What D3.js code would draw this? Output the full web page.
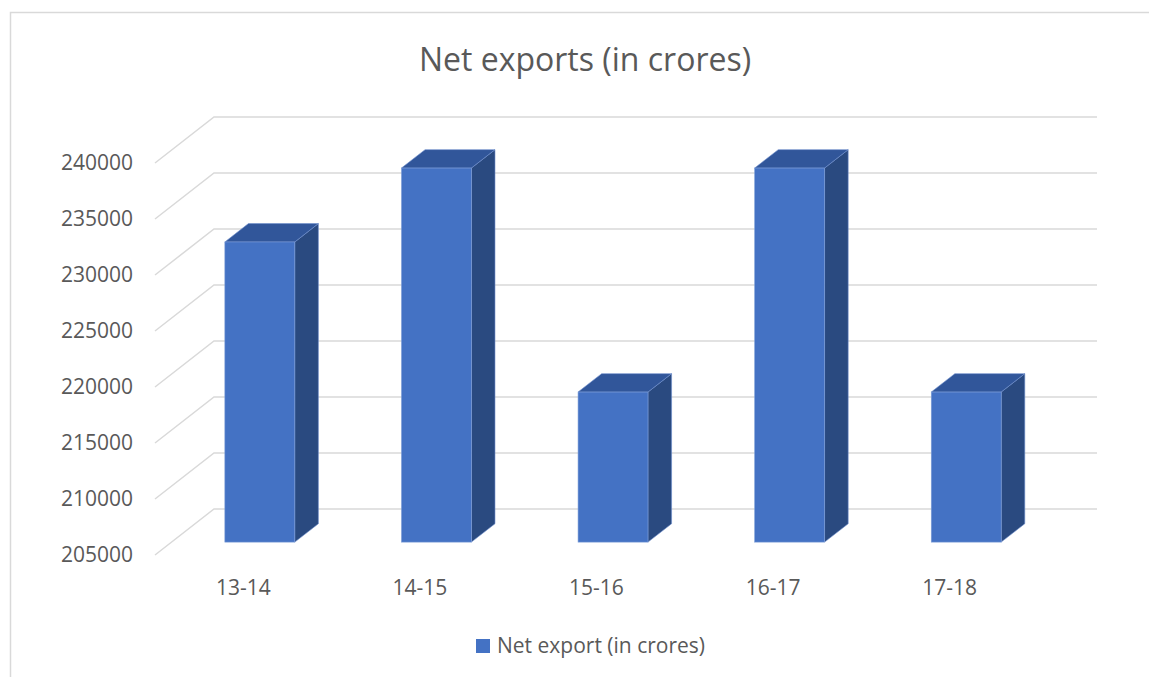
<!DOCTYPE html>
<html>
<head>
<meta charset="utf-8">
<script src="https://d3js.org/d3.v7.min.js"></script>
<style>
  body { margin: 0; background: #fff; }
  svg { display: block; font-family: "Open Sans", sans-serif; }
</style>
</head>
<body>
<svg id="chart"></svg>
<script>
let categories = ["13-14", "14-15", "15-16", "16-17", "17-18"];
let values = [231800, 238400, 218400, 238400, 218400];
let yTicks = [205000, 210000, 215000, 220000, 225000, 230000, 235000, 240000];
let seriesName = "Net export (in crores)";
let chartTitle = "Net exports (in crores)";

let width = 1149;
let height = 677;

let svg = d3.select("#chart")
  .attr("width", width)
  .attr("height", height)
  .attr("viewBox", `0 0 ${width} ${height}`);

// outer chart border (runs off the right/bottom of the picture)
svg.append("path")
  .attr("d", `M10.5,${height} L10.5,12.5 L${width},12.5`)
  .attr("fill", "none")
  .attr("stroke", "#d9d9d9")
  .attr("stroke-width", 1.5);

// front plane scales, depth is a fixed offset
let depthX = 59, depthY = -46;
let x = d3.scaleBand().domain(categories).range([155, 1038]).padding(0);
let y = d3.scaleLinear().domain([205000, 240000]).range([555, 163]);

// gridlines on side wall + back wall
svg.append("g")
  .selectAll("path")
  .data(yTicks)
  .enter()
  .append("path")
  .attr("d", function (d) {
    let yy = y(d);
    return `M155,${yy} L${155 + depthX},${yy + depthY} L${1038 + depthX},${yy + depthY}`;
  })
  .attr("fill", "none")
  .attr("stroke", "#d9d9d9")
  .attr("stroke-width", 1.5);

// y labels
svg.append("g")
  .selectAll("text")
  .data(yTicks)
  .enter()
  .append("text")
  .attr("x", 133)
  .attr("y", function (d) { return y(d); })
  .attr("dy", "0.35em")
  .attr("text-anchor", "end")
  .style("font-size", "21px")
  .style("fill", "#595959")
  .text(function (d) { return d; });

// x labels
svg.append("g")
  .selectAll("text")
  .data(categories)
  .enter()
  .append("text")
  .attr("x", function (d) { return x(d) + x.bandwidth() / 2; })
  .attr("y", 588)
  .attr("dy", "0.35em")
  .attr("text-anchor", "middle")
  .style("font-size", "21px")
  .style("fill", "#595959")
  .text(function (d) { return d; });

// 3D bars
let dFront = 0.28, dBack = 0.68;
let barW = x.bandwidth() * 0.396;
let bars = svg.append("g")
  .selectAll("g")
  .data(categories.map(function (c, i) { return { cat: c, value: values[i] }; }))
  .enter()
  .append("g");

function corners(d) {
  let x0 = x(d.cat) + x.bandwidth() / 2 - barW / 2 + depthX * dFront;
  let x1 = x0 + barW;
  let yt = y(d.value) + depthY * dFront;
  let yb = y(205000) + depthY * dFront;
  let ox = depthX * (dBack - dFront);
  let oy = depthY * (dBack - dFront);
  return { x0: x0, x1: x1, yt: yt, yb: yb, ox: ox, oy: oy };
}

bars.append("path")
  .attr("d", function (d) {
    let c = corners(d);
    return `M${c.x1},${c.yt} L${c.x1 + c.ox},${c.yt + c.oy} L${c.x1 + c.ox},${c.yb + c.oy} L${c.x1},${c.yb} Z`;
  })
  .attr("fill", "#2a4a80")
  .attr("stroke", "#6f8fcc")
  .attr("stroke-width", 0.6);

bars.append("path")
  .attr("d", function (d) {
    let c = corners(d);
    return `M${c.x0},${c.yt} L${c.x0 + c.ox},${c.yt + c.oy} L${c.x1 + c.ox},${c.yt + c.oy} L${c.x1},${c.yt} Z`;
  })
  .attr("fill", "#31569a")
  .attr("stroke", "#6f8fcc")
  .attr("stroke-width", 0.6);

bars.append("rect")
  .attr("x", function (d) { return corners(d).x0; })
  .attr("y", function (d) { return corners(d).yt; })
  .attr("width", barW)
  .attr("height", function (d) { let c = corners(d); return c.yb - c.yt; })
  .attr("fill", "#4472c4")
  .attr("stroke", "#7f9fd8")
  .attr("stroke-width", 0.6);

// title
svg.append("text")
  .attr("x", 585)
  .attr("y", 71)
  .attr("text-anchor", "middle")
  .style("font-size", "32px")
  .style("fill", "#595959")
  .text(chartTitle);

// legend
svg.append("rect")
  .attr("x", 476)
  .attr("y", 639)
  .attr("width", 14)
  .attr("height", 14)
  .attr("fill", "#4472c4");

svg.append("text")
  .attr("x", 497)
  .attr("y", 646)
  .attr("dy", "0.35em")
  .style("font-size", "21px")
  .style("fill", "#595959")
  .text(seriesName);
</script>
</body>
</html>
